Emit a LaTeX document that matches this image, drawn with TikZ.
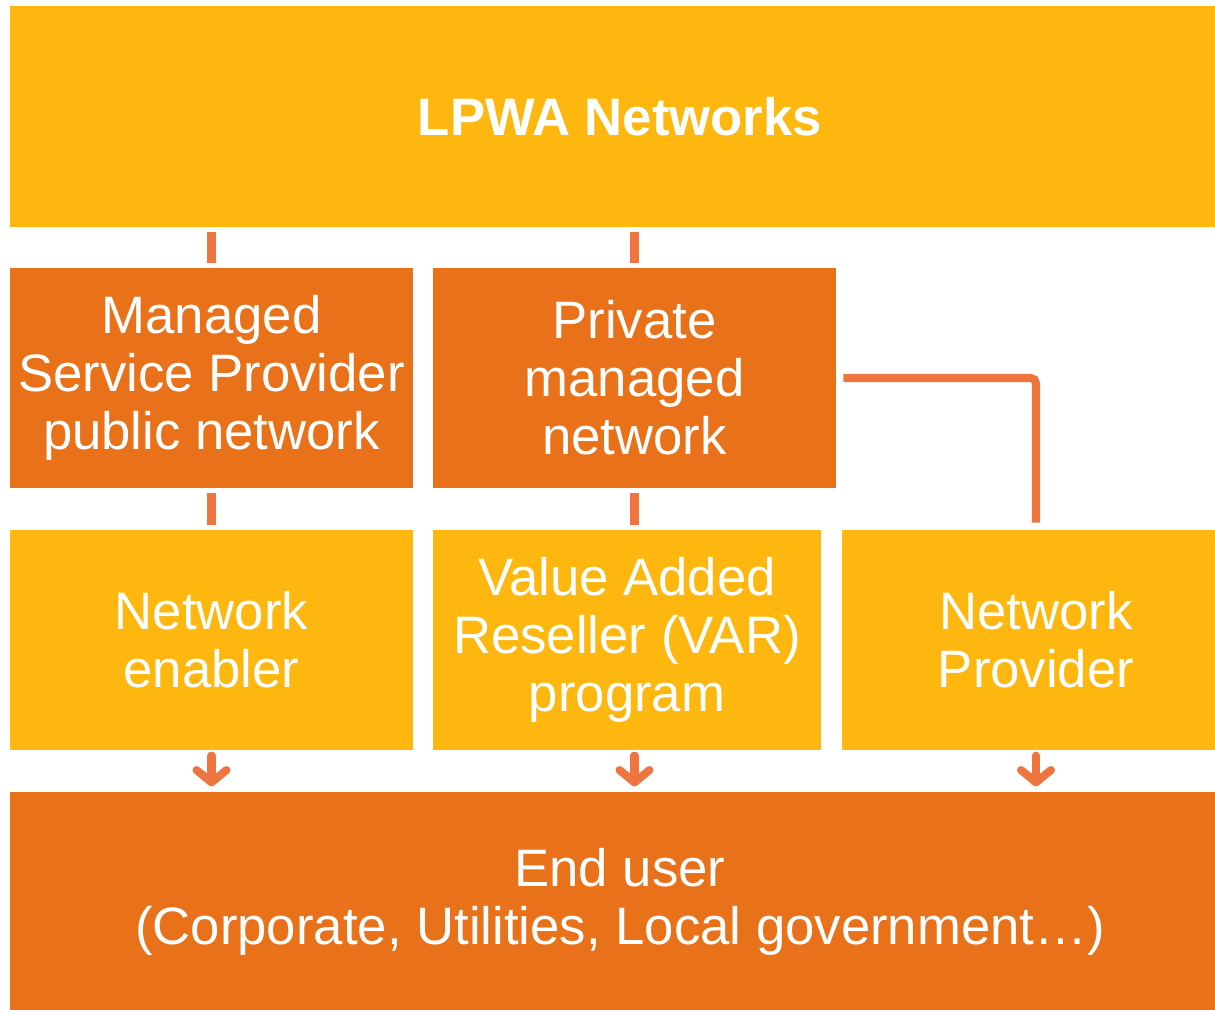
\documentclass[tikz,border=0pt]{standalone}
\usepackage{fontspec}
\setmainfont{Liberation Sans}
\usetikzlibrary{arrows.meta}

\definecolor{amber}{RGB}{253,183,14}
\definecolor{darkorange}{RGB}{232,113,26}
\definecolor{linkorange}{RGB}{238,116,64}

\begin{document}
\begin{tikzpicture}[x=0.02cm,y=-0.02cm,
    box/.style={inner sep=0pt, align=center, text=white,
        font=\fontsize{30}{33}\selectfont, minimum height=4.4cm},
    light/.style={box, fill=amber},
    dark/.style={box, fill=darkorange},
    link/.style={draw=linkorange, line width=4.6pt, shorten <=2.5pt, shorten >=2.5pt},
    pointer/.style={link, line cap=round, shorten <=3pt, shorten >=3pt,
        -{Straight Barb[round,length=7pt,width=17pt]}}]
	\useasboundingbox (0,0) rectangle (1215,1009);
	\clip (0,0) rectangle (1215,1009);

	\node[light, minimum width=24.4cm, minimum height=4.42cm, font=\fontsize{30}{33}\selectfont\bfseries] (top) at (620,116.5) {LPWA Networks};
	\node[dark, minimum width=8.06cm] (msp) at (211.5,378) {Managed\\Service Provider\\public network};
	\node[dark, minimum width=8.06cm] (pmn) at (634.5,378) {Private\\managed\\network};
	\node[light, minimum width=8.06cm] (ne) at (211.5,640) {Network\\enabler};
	\node[light, minimum width=7.76cm] (var) at (627,640) {Value Added\\Reseller (VAR)\\program};
	\node[light, minimum width=7.76cm] (np) at (1036,640) {Network\\Provider};
	\node[dark, minimum width=24.4cm, minimum height=4.4cm] (eu) at (620,902) {End user\\(Corporate, Utilities, Local government\ldots)};

	\draw[link] (top.south -| msp.north) -- (msp.north);
	\draw[link] (top.south -| pmn.north) -- (pmn.north);
	\draw[link] (msp.south) -- (ne.north);
	\draw[link] (pmn.south) -- (pmn.south |- var.north);
	\draw[link, rounded corners=3pt, shorten >=4pt, shorten <=4pt] (pmn.east) -| (np.north);

	\draw[pointer] (ne.south) -- (ne.south |- eu.north);
	\draw[pointer] (var.south -| pmn.south) -- (eu.north -| pmn.south);
	\draw[pointer] (np.south) -- (np.south |- eu.north);
\end{tikzpicture}
\end{document}
